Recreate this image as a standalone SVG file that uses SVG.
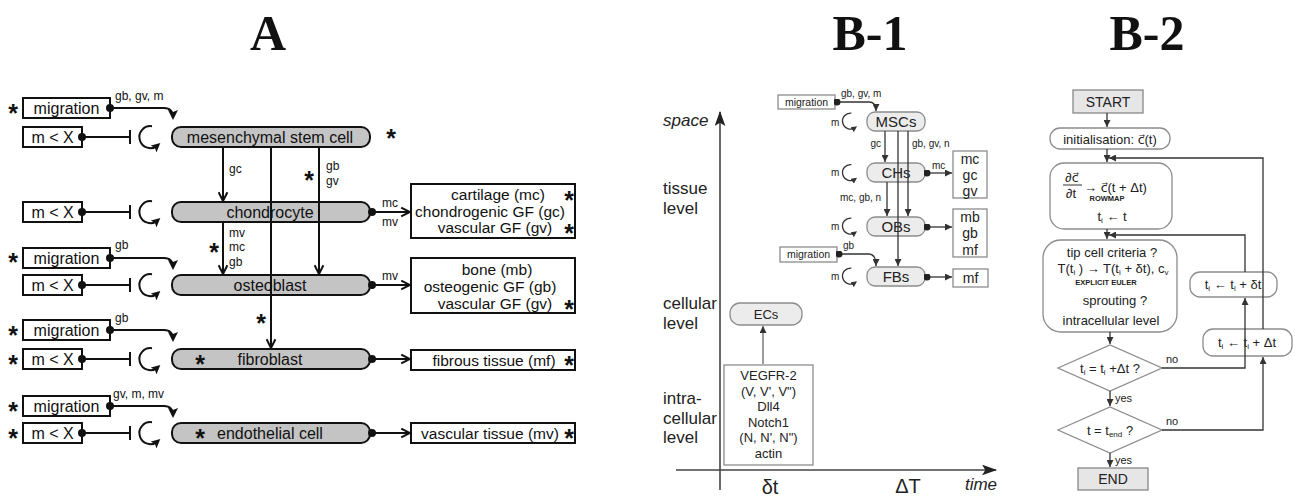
<svg xmlns="http://www.w3.org/2000/svg" width="1295" height="497" viewBox="0 0 1295 497">
<style>
text{font-family:"Liberation Sans",Arial,"DejaVu Sans",sans-serif;fill:#111}
.title{font-family:"Liberation Serif","Times New Roman",serif;font-weight:bold;font-size:50px;text-anchor:middle}
.mid{text-anchor:middle}
.end{text-anchor:end}
.f16{font-size:16px}
.f155{font-size:15.5px}
.f12{font-size:12px}
.f10{font-size:10.5px}
.f13{font-size:13px}
.f14{font-size:14px}
.f15{font-size:15px}
.sub{font-size:8px}
.star{font-weight:bold;font-size:25px;text-anchor:middle}
.it{font-style:italic;font-size:17px}
.lvl{font-size:17px}
.anode{fill:#c4c4c4;stroke:#111;stroke-width:2}
.abox{fill:#fff;stroke:#111;stroke-width:2}
.aline{fill:none;stroke:#111;stroke-width:2}
.bnode{fill:#ececec;stroke:#8c8c8c;stroke-width:1.3}
.bbox{fill:#fff;stroke:#8c8c8c;stroke-width:1.3}
.bline{fill:none;stroke:#333;stroke-width:1.3}
.gtext{fill:#222}
.sbox{fill:#e6e6e6;stroke:#888;stroke-width:1.3}
</style>
<defs>
<marker id="aOpen" markerUnits="userSpaceOnUse" markerWidth="11" markerHeight="11" viewBox="0 0 10 10" refX="9" refY="5" orient="auto"><path d="M1,1 L9,5 L1,9" fill="none" stroke="#111" stroke-width="1.8"/></marker>
<marker id="aFill" markerUnits="userSpaceOnUse" markerWidth="10" markerHeight="10" viewBox="0 0 10 10" refX="8" refY="5" orient="auto"><path d="M0,0 L10,5 L0,10 L2,5 Z" fill="#111"/></marker>
<marker id="aLoop" markerUnits="userSpaceOnUse" markerWidth="9" markerHeight="9" viewBox="0 0 10 10" refX="6" refY="5" orient="auto"><path d="M0,0 L10,5 L0,10 L2,5 Z" fill="#111"/></marker>
<marker id="aBar" markerUnits="userSpaceOnUse" markerWidth="4" markerHeight="14" viewBox="0 0 4 14" refX="2" refY="7" orient="auto"><path d="M2,0 V14" stroke="#111" stroke-width="2"/></marker>
<marker id="aDot" markerUnits="userSpaceOnUse" markerWidth="8" markerHeight="8" viewBox="0 0 10 10" refX="5" refY="5"><circle cx="5" cy="5" r="5" fill="#111"/></marker>
<marker id="bTri" markerUnits="userSpaceOnUse" markerWidth="7" markerHeight="7" viewBox="0 0 10 10" refX="10" refY="5" orient="auto"><path d="M0,0 L10,5 L0,10 Z" fill="#333"/></marker>
<marker id="bDot" markerUnits="userSpaceOnUse" markerWidth="7" markerHeight="7" viewBox="0 0 10 10" refX="5" refY="5"><circle cx="5" cy="5" r="5" fill="#222"/></marker>
<marker id="bAxis" markerUnits="userSpaceOnUse" markerWidth="15" markerHeight="11" viewBox="0 0 14 10" refX="13" refY="5" orient="auto"><path d="M0,0 L14,5 L0,10 L3,5 Z" fill="#222"/></marker>
<marker id="bLoop" markerUnits="userSpaceOnUse" markerWidth="6" markerHeight="6" viewBox="0 0 10 10" refX="6" refY="5" orient="auto"><path d="M0,0 L10,5 L0,10 Z" fill="#333"/></marker>
</defs>
<rect width="1295" height="497" fill="#fff"/>

<g id="titles">
<text class="title" x="268" y="50">A</text>
<text class="title" x="870" y="50">B-1</text>
<text class="title" x="1147" y="50">B-2</text>
</g>

<!-- ============ PANEL A nodes ============ -->
<g id="a-mig1"><rect class="abox" x="23" y="98" width="87" height="20"/><text class="f16 mid" x="66.5" y="113.5">migration</text></g>
<g id="a-mx1"><rect class="abox" x="23" y="127" width="59" height="20"/><text class="f16 mid" x="52.5" y="142.5">m &lt; X</text></g>
<g id="a-mx2"><rect class="abox" x="23" y="202" width="59" height="20"/><text class="f16 mid" x="52.5" y="217.5">m &lt; X</text></g>
<g id="a-mig3"><rect class="abox" x="23" y="248" width="87" height="20"/><text class="f16 mid" x="66.5" y="263.5">migration</text></g>
<g id="a-mx3"><rect class="abox" x="23" y="275" width="59" height="20"/><text class="f16 mid" x="52.5" y="290.5">m &lt; X</text></g>
<g id="a-mig4"><rect class="abox" x="23" y="320" width="87" height="20"/><text class="f16 mid" x="66.5" y="335.5">migration</text></g>
<g id="a-mx4"><rect class="abox" x="23" y="349" width="59" height="20"/><text class="f16 mid" x="52.5" y="364.5">m &lt; X</text></g>
<g id="a-mig5"><rect class="abox" x="23" y="396" width="87" height="20"/><text class="f16 mid" x="66.5" y="411.5">migration</text></g>
<g id="a-mx5"><rect class="abox" x="23" y="423" width="59" height="20"/><text class="f16 mid" x="52.5" y="438.5">m &lt; X</text></g>

<g id="a-msc"><rect class="anode" x="172" y="127" width="198" height="20" rx="9"/><text class="f16 mid" x="270" y="142.5">mesenchymal stem cell</text></g>
<g id="a-chondro"><rect class="anode" x="172" y="202" width="198" height="20" rx="9"/><text class="f16 mid" x="270" y="217.5">chondrocyte</text></g>
<g id="a-osteo"><rect class="anode" x="172" y="275" width="198" height="20" rx="9"/><text class="f16 mid" x="270" y="290.5">osteoblast</text></g>
<g id="a-fibro"><rect class="anode" x="172" y="349" width="198" height="20" rx="9"/><text class="f16 mid" x="270" y="364.5">fibroblast</text></g>
<g id="a-endo"><rect class="anode" x="172" y="423" width="198" height="20" rx="9"/><text class="f16 mid" x="270" y="438.5">endothelial cell</text></g>

<g id="a-out1"><rect class="abox" x="411" y="184" width="164" height="54"/>
<text class="f155 mid" x="498" y="200">cartilage (mc)</text>
<text class="f155 mid" x="490" y="217">chondrogenic GF (gc)</text>
<text class="f155 mid" x="495" y="233">vascular GF (gv)</text></g>
<g id="a-out2"><rect class="abox" x="411" y="258" width="164" height="55"/>
<text class="f155 mid" x="497" y="275">bone (mb)</text>
<text class="f155 mid" x="490" y="292">osteogenic GF (gb)</text>
<text class="f155 mid" x="495" y="309">vascular GF (gv)</text></g>
<g id="a-out3"><rect class="abox" x="411" y="350" width="164" height="20"/><text class="f155 mid" x="494" y="365.5">fibrous tissue (mf)</text></g>
<g id="a-out4"><rect class="abox" x="411" y="423" width="164" height="20"/><text class="f155 mid" x="490" y="438.5">vascular tissue (mv)</text></g>

<g id="a-stars">
<text class="star" x="13" y="122">*</text>
<text class="star" x="13" y="271">*</text>
<text class="star" x="13" y="344">*</text>
<text class="star" x="13" y="373">*</text>
<text class="star" x="13" y="420">*</text>
<text class="star" x="13" y="447">*</text>
<text class="star" x="391" y="147">*</text>
<text class="star" x="309" y="189">*</text>
<text class="star" x="214" y="261">*</text>
<text class="star" x="261" y="332">*</text>
<text class="star" x="200" y="373">*</text>
<text class="star" x="200" y="447">*</text>
<text class="star" x="569" y="209">*</text>
<text class="star" x="569" y="242">*</text>
<text class="star" x="569" y="318">*</text>
<text class="star" x="569" y="374">*</text>
<text class="star" x="569" y="447">*</text>
</g>

<!-- ============ PANEL B-1 nodes ============ -->
<g id="b1-mig1"><rect class="bbox" x="778" y="95" width="57" height="14"/><text class="f10 mid gtext" x="806.5" y="105.5">migration</text></g>
<g id="b1-mig2"><rect class="bbox" x="780" y="247" width="57" height="15"/><text class="f10 mid gtext" x="808.5" y="258">migration</text></g>
<g id="b1-msc"><rect class="bnode" x="867" y="112" width="58" height="19" rx="8"/><text class="f15 mid gtext" x="896" y="126.5">MSCs</text></g>
<g id="b1-ch"><rect class="bnode" x="867" y="163" width="58" height="19" rx="8"/><text class="f15 mid gtext" x="896" y="177.5">CHs</text></g>
<g id="b1-ob"><rect class="bnode" x="867" y="217" width="58" height="19" rx="8"/><text class="f15 mid gtext" x="896" y="231.5">OBs</text></g>
<g id="b1-fb"><rect class="bnode" x="867" y="267" width="58" height="19" rx="8"/><text class="f15 mid gtext" x="896" y="281.5">FBs</text></g>
<g id="b1-out1"><rect class="bbox" x="953" y="151" width="34" height="47"/>
<text class="f14 mid gtext" x="970" y="164">mc</text><text class="f14 mid gtext" x="970" y="180">gc</text><text class="f14 mid gtext" x="970" y="196">gv</text></g>
<g id="b1-out2"><rect class="bbox" x="953" y="209" width="34" height="48"/>
<text class="f14 mid gtext" x="970" y="222">mb</text><text class="f14 mid gtext" x="970" y="238">gb</text><text class="f14 mid gtext" x="970" y="255">mf</text></g>
<g id="b1-out3"><rect class="bbox" x="953" y="269" width="35" height="18"/><text class="f14 mid gtext" x="970.5" y="283">mf</text></g>
<g id="b1-ecs"><rect class="bnode" x="730" y="303" width="72" height="22" rx="10"/><text class="f13 mid gtext" x="766" y="319">ECs</text></g>
<g id="b1-intra"><rect class="bbox" x="724" y="365" width="89" height="100"/>
<text class="f13 mid gtext" x="768.5" y="380">VEGFR-2</text>
<text class="f13 mid gtext" x="768.5" y="395.5">(V, V', V")</text>
<text class="f13 mid gtext" x="768.5" y="411">Dll4</text>
<text class="f13 mid gtext" x="768.5" y="426.5">Notch1</text>
<text class="f13 mid gtext" x="768.5" y="442">(N, N', N")</text>
<text class="f13 mid gtext" x="768.5" y="457.5">actin</text></g>
<g id="b1-axes-labels">
<text class="it gtext" x="663" y="126">space</text>
<text class="lvl gtext" x="663" y="194">tissue</text>
<text class="lvl gtext" x="663" y="214">level</text>
<text class="lvl gtext" x="663" y="309">cellular</text>
<text class="lvl gtext" x="663" y="329">level</text>
<text class="lvl gtext" x="663" y="404">intra-</text>
<text class="lvl gtext" x="663" y="424">cellular</text>
<text class="lvl gtext" x="663" y="443">level</text>
<text class="gtext mid" style="font-size:20px" x="770" y="494">δt</text>
<text class="gtext mid" style="font-size:20px" x="908" y="493">ΔT</text>
<text class="it gtext mid" x="981" y="490">time</text>
</g>

<!-- ============ PANEL B-2 nodes ============ -->
<g id="b2-start"><rect class="sbox" x="1073" y="90" width="70" height="23"/><text class="f14 mid gtext" x="1108" y="106.5">START</text></g>
<g id="b2-init"><rect class="bbox" x="1050" y="128" width="120" height="21" rx="10"/><text class="f13 mid gtext" x="1110" y="143.5">initialisation: <tspan style="font-family:'DejaVu Sans',sans-serif;font-size:12.5px">c&#x20D7;</tspan>(t)</text></g>
<g id="b2-rowmap"><rect class="bbox" x="1050" y="163" width="122" height="66" rx="14"/>
<text class="f13 mid gtext" x="1072" y="182">∂<tspan style="font-family:'DejaVu Sans',sans-serif;font-size:12.5px">c&#x20D7;</tspan></text>
<line x1="1063" y1="185" x2="1082" y2="185" stroke="#333" stroke-width="1"/>
<text class="f13 mid gtext" x="1071" y="198">∂t</text>
<text class="f13 gtext" x="1084" y="192">→ <tspan style="font-family:'DejaVu Sans',sans-serif;font-size:12.5px">c&#x20D7;</tspan>(t + Δt)</text>
<text class="mid gtext" style="font-size:7.5px;font-weight:bold" x="1107" y="201">ROWMAP</text>
<text class="f13 mid gtext" x="1112" y="221">t<tspan class="sub" dy="2">i</tspan><tspan dy="-2"> ← t</tspan></text></g>
<g id="b2-tip"><rect class="bbox" x="1043" y="240" width="134" height="92" rx="18"/>
<text class="f13 mid gtext" x="1112" y="257">tip cell criteria ?</text>
<text class="f13 mid gtext" x="1113" y="273">T(t<tspan class="sub" dy="2">i</tspan><tspan dy="-2"> ) →  T(t</tspan><tspan class="sub" dy="2">i</tspan><tspan dy="-2"> + δt), c</tspan><tspan class="sub" dy="2">v</tspan></text>
<text class="mid gtext" style="font-size:7.5px;font-weight:bold" x="1106" y="285">EXPLICIT EULER</text>
<text class="f13 mid gtext" x="1115" y="305">sprouting ?</text>
<text class="f13 mid gtext" x="1111" y="325">intracellular level</text></g>
<g id="b2-d1"><path class="bbox" d="M1058 368 L1110 345 L1162 368 L1110 391 Z"/><text class="f13 mid gtext" x="1110" y="373">t<tspan class="sub" dy="2">i</tspan><tspan dy="-2"> = t</tspan><tspan class="sub" dy="2">i</tspan><tspan dy="-2"> +Δt ?</tspan></text></g>
<g id="b2-d2"><path class="bbox" d="M1058 430 L1110 407 L1162 430 L1110 453 Z"/><text class="f13 mid gtext" x="1110" y="435">t = t<tspan class="sub" dy="2">end</tspan><tspan dy="-2">  ?</tspan></text></g>
<g id="b2-end"><rect class="sbox" x="1078" y="468" width="70" height="22"/><text class="f14 mid gtext" x="1113" y="484">END</text></g>
<g id="b2-dt"><rect class="bbox" x="1190" y="272" width="87" height="25" rx="10"/><text class="f13 mid gtext" x="1233" y="289">t<tspan class="sub" dy="2">i</tspan><tspan dy="-2"> ← t</tspan><tspan class="sub" dy="2">i</tspan><tspan dy="-2"> + δt</tspan></text></g>
<g id="b2-DT"><rect class="bbox" x="1203" y="329" width="89" height="27" rx="10"/><text class="f13 mid gtext" x="1247" y="347">t<tspan class="sub" dy="2">i</tspan><tspan dy="-2"> ← t</tspan><tspan class="sub" dy="2">i</tspan><tspan dy="-2"> + Δt</tspan></text></g>

<!-- ============ CONNECTORS ============ -->
<g id="connectors">
<!-- Panel A migration -->
<path class="aline" d="M110 108 H164 Q173 108 173 118" marker-start="url(#aDot)" marker-end="url(#aFill)"/>
<path class="aline" d="M110 258 H164 Q173 258 173 268" marker-start="url(#aDot)" marker-end="url(#aFill)"/>
<path class="aline" d="M110 330 H164 Q173 330 173 340" marker-start="url(#aDot)" marker-end="url(#aFill)"/>
<path class="aline" d="M110 406 H164 Q173 406 173 416" marker-start="url(#aDot)" marker-end="url(#aFill)"/>
<!-- inhibition -->
<path class="aline" d="M82 137 H130" marker-start="url(#aDot)" marker-end="url(#aBar)"/>
<path class="aline" d="M82 212 H130" marker-start="url(#aDot)" marker-end="url(#aBar)"/>
<path class="aline" d="M82 285 H130" marker-start="url(#aDot)" marker-end="url(#aBar)"/>
<path class="aline" d="M82 359 H130" marker-start="url(#aDot)" marker-end="url(#aBar)"/>
<path class="aline" d="M82 433 H130" marker-start="url(#aDot)" marker-end="url(#aBar)"/>
<!-- self loops -->
<path class="aline" d="M152 126.2 A11 11 0 1 0 157.6 145.4" marker-end="url(#aLoop)"/>
<path class="aline" d="M152 201.2 A11 11 0 1 0 157.6 220.4" marker-end="url(#aLoop)"/>
<path class="aline" d="M152 274.2 A11 11 0 1 0 157.6 293.4" marker-end="url(#aLoop)"/>
<path class="aline" d="M152 348.2 A11 11 0 1 0 157.6 367.4" marker-end="url(#aLoop)"/>
<path class="aline" d="M152 422.2 A11 11 0 1 0 157.6 441.4" marker-end="url(#aLoop)"/>
<!-- differentiation -->
<path class="aline" d="M223 147 V201" marker-end="url(#aOpen)"/>
<path class="aline" d="M271 147 V348" marker-end="url(#aOpen)"/>
<path class="aline" d="M319 147 V274" marker-end="url(#aOpen)"/>
<path class="aline" d="M223 222 V274" marker-end="url(#aOpen)"/>
<!-- production -->
<path class="aline" d="M372 212 H410" marker-start="url(#aDot)" marker-end="url(#aOpen)"/>
<path class="aline" d="M372 285 H410" marker-start="url(#aDot)" marker-end="url(#aOpen)"/>
<path class="aline" d="M372 359 H410" marker-start="url(#aDot)" marker-end="url(#aOpen)"/>
<path class="aline" d="M372 433 H410" marker-start="url(#aDot)" marker-end="url(#aOpen)"/>
<!-- A labels -->
<text class="f12" x="115" y="100">gb, gv, m</text>
<text class="f12" x="115" y="249">gb</text>
<text class="f12" x="115" y="322">gb</text>
<text class="f12" x="113" y="398">gv, m, mv</text>
<text class="f12" x="229" y="173">gc</text>
<text class="f12" x="326" y="170">gb</text>
<text class="f12" x="326" y="185">gv</text>
<text class="f12" x="229" y="237">mv</text>
<text class="f12" x="229" y="251">mc</text>
<text class="f12" x="229" y="266">gb</text>
<text class="f12" x="382" y="207">mc</text>
<text class="f12" x="382" y="226">mv</text>
<text class="f12" x="382" y="280">mv</text>

<!-- Panel B-1 -->
<path class="bline" d="M720 490 V112" marker-end="url(#bAxis)" style="stroke:#444;stroke-width:1.6"/>
<path class="bline" d="M676 470 H996" marker-end="url(#bAxis)" style="stroke:#444;stroke-width:1.6"/>
<path class="bline" d="M837 102 H869 Q876 102 876 111" marker-start="url(#bDot)" marker-end="url(#bTri)"/>
<path class="bline" d="M839 254 H869 Q876 254 876 266" marker-start="url(#bDot)" marker-end="url(#bTri)"/>
<path class="bline" d="M885 131 V162" marker-end="url(#bTri)"/>
<path class="bline" d="M898 131 V266" marker-end="url(#bTri)"/>
<path class="bline" d="M908 131 V216" marker-end="url(#bTri)"/>
<path class="bline" d="M887 182 V216" marker-end="url(#bTri)"/>
<path class="bline" d="M927 173 H952" marker-start="url(#bDot)" marker-end="url(#bTri)"/>
<path class="bline" d="M927 227 H952" marker-start="url(#bDot)" marker-end="url(#bTri)"/>
<path class="bline" d="M927 277 H952" marker-start="url(#bDot)" marker-end="url(#bTri)"/>
<path class="bline" d="M763 364 V326" marker-end="url(#bTri)" style="stroke:#666"/>
<path class="bline" d="M851.4 113.1 A8 8 0 1 0 855.1 127.6" marker-end="url(#bLoop)"/>
<path class="bline" d="M851.4 164.6 A8 8 0 1 0 855.1 179.1" marker-end="url(#bLoop)"/>
<path class="bline" d="M851.4 218.1 A8 8 0 1 0 855.1 232.6" marker-end="url(#bLoop)"/>
<path class="bline" d="M851.4 268.1 A8 8 0 1 0 855.1 282.6" marker-end="url(#bLoop)"/>
<text class="gtext" style="font-size:10px" x="841" y="97">gb, gv, m</text>
<text class="gtext" style="font-size:10px" x="843" y="249">gb</text>
<text class="gtext end" style="font-size:10px" x="881" y="147">gc</text>
<text class="gtext" style="font-size:10px" x="912" y="147">gb, gv, n</text>
<text class="gtext" style="font-size:10px" x="932" y="169">mc</text>
<text class="gtext" style="font-size:10px" x="840" y="201">mc, gb, n</text>
<text class="gtext" style="font-size:10px" x="831" y="126">m</text>
<text class="gtext" style="font-size:10px" x="831" y="176">m</text>
<text class="gtext" style="font-size:10px" x="831" y="230">m</text>
<text class="gtext" style="font-size:10px" x="831" y="280">m</text>

<!-- Panel B-2 -->
<path class="bline" d="M1107 113 V127" marker-end="url(#bTri)"/>
<path class="bline" d="M1107 149 V162" marker-end="url(#bTri)"/>
<path class="bline" d="M1107 229 V239" marker-end="url(#bTri)"/>
<path class="bline" d="M1110 332 V344" marker-end="url(#bTri)"/>
<path class="bline" d="M1110 391 V406" marker-end="url(#bTri)"/>
<path class="bline" d="M1110 453 V467" marker-end="url(#bTri)"/>
<path class="bline" d="M1162 368 H1245 V298" marker-end="url(#bTri)"/>
<path class="bline" d="M1245 272 V235 H1109" marker-end="url(#bTri)"/>
<path class="bline" d="M1162 430 H1263 V357" marker-end="url(#bTri)"/>
<path class="bline" d="M1263 329 V158 H1109" marker-end="url(#bTri)"/>
<text class="gtext" style="font-size:11px" x="1166" y="363">no</text>
<text class="gtext" style="font-size:11px" x="1166" y="425">no</text>
<text class="gtext" style="font-size:11px" x="1115" y="402">yes</text>
<text class="gtext" style="font-size:11px" x="1115" y="464">yes</text>
</g>
</svg>
